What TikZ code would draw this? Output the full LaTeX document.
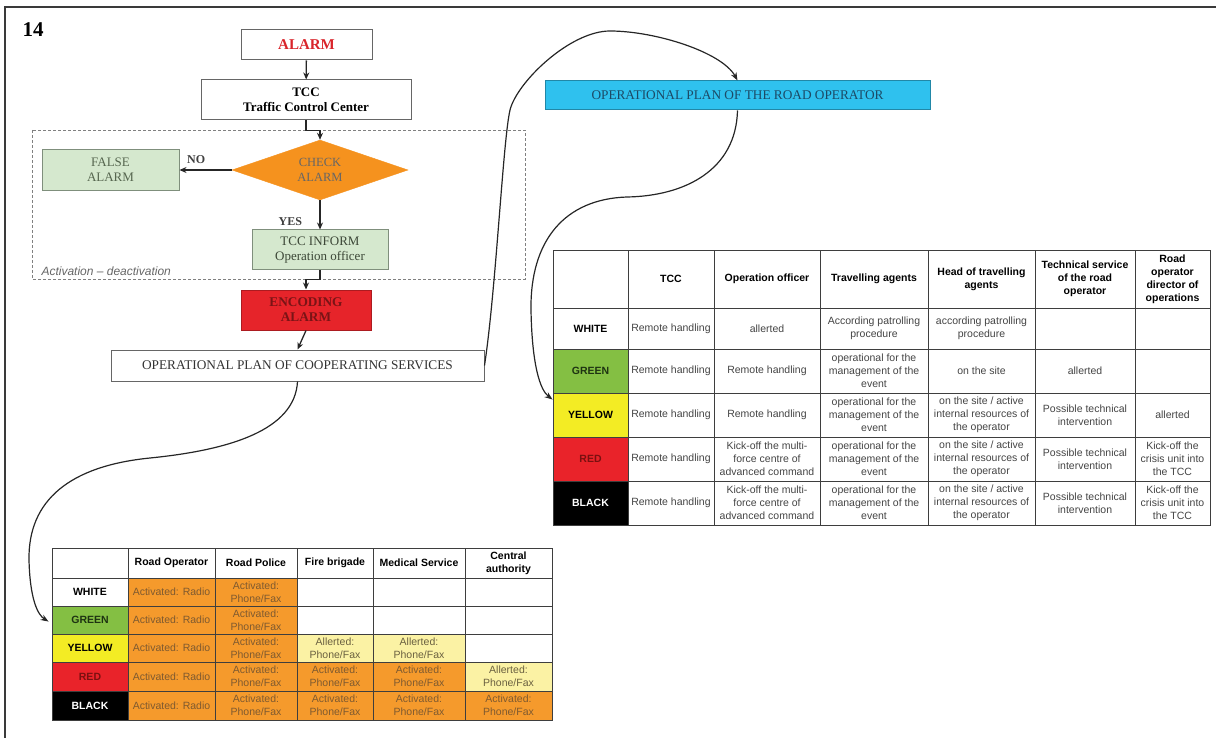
\documentclass[tikz,border=0pt]{standalone}
\usepackage{fontspec}
\setmainfont{Liberation Serif}
\newfontfamily\tabfont{Liberation Sans}
\usetikzlibrary{arrows.meta,shapes.geometric}

\definecolor{frameC}{HTML}{3A3A3A}
\definecolor{boxline}{HTML}{666666}
\definecolor{alarmred}{HTML}{D9252B}
\definecolor{checkorange}{HTML}{F5921E}
\definecolor{paleGreen}{HTML}{D5E8CE}
\definecolor{paleGreenLine}{HTML}{7F8F7C}
\definecolor{paleGreenText}{HTML}{56664F}
\definecolor{encRed}{HTML}{E6242A}
\definecolor{encText}{HTML}{7A1416}
\definecolor{planBlue}{HTML}{2FC1EE}
\definecolor{planBlueText}{HTML}{1C4A66}
\definecolor{lvGreen}{HTML}{84BF43}
\definecolor{lvGreenText}{HTML}{1E3312}
\definecolor{lvYellow}{HTML}{F3EC24}
\definecolor{lvRed}{HTML}{E9232A}
\definecolor{lvRedText}{HTML}{7A1010}
\definecolor{cellOrange}{HTML}{F59A2C}
\definecolor{cellPale}{HTML}{FBF2A4}
\definecolor{gridC}{HTML}{3E3E3E}
\definecolor{cellText}{HTML}{444444}
\definecolor{orangeText}{HTML}{7E5A30}
\definecolor{paleText}{HTML}{6A6040}

% one table cell: name, x0, y0, x1, y1, extra style, text
\newcommand\cellnode[7]{%
  \node[tcell,#6,minimum width={(#4-#2)*1pt},minimum height={(#5-#3)*1pt}]
    (#1) at ({(#2+#4)/2},{(#3+#5)/2}) {#7};}

\begin{document}
\begin{tikzpicture}[x=1pt,y=-1pt,
  flowbox/.style={draw=boxline,line width=1pt,inner sep=0pt,align=center,text=black},
  link/.style={draw=black!85,line width=1.3pt,-{Stealth[length=7pt,width=6pt]}},
  curvelink/.style={draw=black!85,line width=1.2pt,-{Stealth[length=8pt,width=6pt]}},
  tcell/.style={draw=gridC,line width=0.9pt,inner sep=0pt,align=center,
    text=cellText,font=\tabfont\fontsize{10.5}{13}\selectfont},
  head/.style={text=black,font=\tabfont\bfseries\fontsize{10.5}{13}\selectfont},
  lvWhite/.style={head,fill=white},
  lvGreenC/.style={head,fill=lvGreen,text=lvGreenText},
  lvYellowC/.style={head,fill=lvYellow,text=black},
  lvRedC/.style={head,fill=lvRed,text=lvRedText},
  lvBlackC/.style={head,fill=black,text=white},
  act/.style={fill=cellOrange,text=orangeText},
  alr/.style={fill=cellPale,text=paleText}]
\useasboundingbox (0,0) rectangle (1216,738);

% frame
\draw[frameC,line width=1.5pt] (5,738) -- (5,7) -- (1216,7);
\node[anchor=base west,font=\bfseries\fontsize{21}{24}\selectfont] (fignum) at (19,37) {14};

% activation area
\draw[gray,line width=0.8pt,dash pattern=on 3pt off 2pt] (32,130) rectangle (525,279);
\node[anchor=base west,text=black!60,font=\tabfont\itshape\fontsize{12}{14}\selectfont]
  (actlabel) at (38,276) {Activation – deactivation};

% flow chart
\node[flowbox,minimum width=131pt,minimum height=30pt,text=alarmred,
  font=\bfseries\fontsize{15}{17}\selectfont] (alarm) at (306.5,45) {ALARM};
\node[flowbox,minimum width=210pt,minimum height=40pt,
  font=\bfseries\fontsize{13}{15}\selectfont] (tcc) at (306,100) {TCC\\Traffic Control Center};
\node[diamond,aspect=2.9,draw=checkorange,fill=checkorange,inner sep=0pt,
  minimum width=176pt,minimum height=60pt,align=center,text=black!60,
  font=\fontsize{12.5}{14.5}\selectfont] (check) at (320,170) {CHECK\\ALARM};
\node[flowbox,fill=paleGreen,draw=paleGreenLine,minimum width=137pt,minimum height=41pt,
  text=paleGreenText,font=\fontsize{13}{15}\selectfont] (falsealarm) at (110.5,170) {FALSE\\ALARM};
\node[flowbox,fill=paleGreen,draw=paleGreenLine,minimum width=136pt,minimum height=40pt,
  text=paleGreenText!70!black,font=\fontsize{13}{15}\selectfont] (tccinform) at (320,250) {TCC INFORM\\Operation officer};
\node[flowbox,fill=encRed,draw=encRed!75!black,minimum width=130pt,minimum height=40pt,
  text=encText,font=\bfseries\fontsize{13.3}{15}\selectfont] (encoding) at (306,310) {ENCODING\\ALARM};
\node[flowbox,minimum width=373pt,minimum height=31pt,text=black!80,
  font=\fontsize{13.3}{15}\selectfont] (opcs) at (297.5,365.5) {OPERATIONAL PLAN OF COOPERATING SERVICES};
\node[flowbox,fill=planBlue,draw=planBlue!70!black,minimum width=385pt,minimum height=29pt,
  text=planBlueText,font=\fontsize{13.3}{15}\selectfont] (orp) at (737.5,95.5) {OPERATIONAL PLAN OF THE ROAD OPERATOR};

\draw[link] (alarm) -- (tcc);
\draw[link] (tcc.south) -- ++(0,10) -| (check.north);
\draw[link] (check.west) -- (falsealarm.east)
  node[pos=0.68,above=2pt,font=\bfseries\fontsize{12}{14}\selectfont,text=black!75] (nolabel) {NO};
\draw[link] (check.south) -- (tccinform.north)
  node[pos=0.72,left=14pt,font=\bfseries\fontsize{12}{14}\selectfont,text=black!75] (yeslabel) {YES};
\draw[link] (tccinform.south) -- ++(0,9) -| (encoding.north);
\draw[link] (encoding.south) -- (opcs.north);

% right table: road operator
\cellnode{rh0}{553}{250}{628}{308}{}{}
\foreach \xa/\xb/\n/\t in {628/714/1/TCC, 714/820/2/{Operation officer},
  820/928/3/{Travelling agents}, 928/1035/4/{Head of travelling\\agents},
  1035/1135/5/{Technical service\\of the road\\operator},
  1135/1210/6/{Road\\operator\\director of\\operations}}
  {\cellnode{rh\n}{\xa}{250}{\xb}{308}{head}{\t}}

\cellnode{rw-lab}{553}{308}{628}{349}{lvWhite}{WHITE}
\foreach \xa/\xb/\n/\t in {628/714/1/{Remote handling}, 714/820/2/allerted,
  820/928/3/{According patrolling\\procedure}, 928/1035/4/{according patrolling\\procedure},
  1035/1135/5/{}, 1135/1210/6/{}}
  {\cellnode{rw\n}{\xa}{308}{\xb}{349}{}{\t}}

\cellnode{rg-lab}{553}{349}{628}{393}{lvGreenC}{GREEN}
\foreach \xa/\xb/\n/\t in {628/714/1/{Remote handling}, 714/820/2/{Remote handling},
  820/928/3/{operational for the\\management of the\\event}, 928/1035/4/{on the site},
  1035/1135/5/allerted, 1135/1210/6/{}}
  {\cellnode{rg\n}{\xa}{349}{\xb}{393}{}{\t}}

\cellnode{ry-lab}{553}{393}{628}{437}{lvYellowC}{YELLOW}
\foreach \xa/\xb/\n/\t in {628/714/1/{Remote handling}, 714/820/2/{Remote handling},
  820/928/3/{operational for the\\management of the\\event},
  928/1035/4/{on the site / active\\internal resources of\\the operator},
  1035/1135/5/{Possible technical\\intervention}, 1135/1210/6/allerted}
  {\cellnode{ry\n}{\xa}{393}{\xb}{437}{}{\t}}

\cellnode{rr-lab}{553}{437}{628}{481}{lvRedC}{RED}
\foreach \xa/\xb/\n/\t in {628/714/1/{Remote handling},
  714/820/2/{Kick-off the multi-\\force centre of\\advanced command},
  820/928/3/{operational for the\\management of the\\event},
  928/1035/4/{on the site / active\\internal resources of\\the operator},
  1035/1135/5/{Possible technical\\intervention},
  1135/1210/6/{Kick-off the\\crisis unit into\\the TCC}}
  {\cellnode{rr\n}{\xa}{437}{\xb}{481}{}{\t}}

\cellnode{rb-lab}{553}{481}{628}{525}{lvBlackC}{BLACK}
\foreach \xa/\xb/\n/\t in {628/714/1/{Remote handling},
  714/820/2/{Kick-off the multi-\\force centre of\\advanced command},
  820/928/3/{operational for the\\management of the\\event},
  928/1035/4/{on the site / active\\internal resources of\\the operator},
  1035/1135/5/{Possible technical\\intervention},
  1135/1210/6/{Kick-off the\\crisis unit into\\the TCC}}
  {\cellnode{rb\n}{\xa}{481}{\xb}{525}{}{\t}}

% bottom table: cooperating services
\cellnode{bh0}{52}{548}{128}{578}{}{}
\foreach \xa/\xb/\n/\t in {128/215/1/{Road Operator}, 215/297/2/{Road Police},
  297/373/3/{Fire brigade}, 373/465/4/{Medical Service}, 465/552/5/{Central\\authority}}
  {\cellnode{bh\n}{\xa}{548}{\xb}{578}{head}{\t}}

\cellnode{bw-lab}{52}{578}{128}{606}{lvWhite}{WHITE}
\cellnode{bw1}{128}{578}{215}{606}{act}{Activated: Radio}
\cellnode{bw2}{215}{578}{297}{606}{act}{Activated:\\Phone/Fax}
\cellnode{bw3}{297}{578}{373}{606}{}{}
\cellnode{bw4}{373}{578}{465}{606}{}{}
\cellnode{bw5}{465}{578}{552}{606}{}{}

\cellnode{bg-lab}{52}{606}{128}{634}{lvGreenC}{GREEN}
\cellnode{bg1}{128}{606}{215}{634}{act}{Activated: Radio}
\cellnode{bg2}{215}{606}{297}{634}{act}{Activated:\\Phone/Fax}
\cellnode{bg3}{297}{606}{373}{634}{}{}
\cellnode{bg4}{373}{606}{465}{634}{}{}
\cellnode{bg5}{465}{606}{552}{634}{}{}

\cellnode{by-lab}{52}{634}{128}{662}{lvYellowC}{YELLOW}
\cellnode{by1}{128}{634}{215}{662}{act}{Activated: Radio}
\cellnode{by2}{215}{634}{297}{662}{act}{Activated:\\Phone/Fax}
\cellnode{by3}{297}{634}{373}{662}{alr}{Allerted:\\Phone/Fax}
\cellnode{by4}{373}{634}{465}{662}{alr}{Allerted:\\Phone/Fax}
\cellnode{by5}{465}{634}{552}{662}{}{}

\cellnode{br-lab}{52}{662}{128}{691}{lvRedC}{RED}
\cellnode{br1}{128}{662}{215}{691}{act}{Activated: Radio}
\cellnode{br2}{215}{662}{297}{691}{act}{Activated:\\Phone/Fax}
\cellnode{br3}{297}{662}{373}{691}{act}{Activated:\\Phone/Fax}
\cellnode{br4}{373}{662}{465}{691}{act}{Activated:\\Phone/Fax}
\cellnode{br5}{465}{662}{552}{691}{alr}{Allerted:\\Phone/Fax}

\cellnode{bb-lab}{52}{691}{128}{720}{lvBlackC}{BLACK}
\cellnode{bb1}{128}{691}{215}{720}{act}{Activated: Radio}
\cellnode{bb2}{215}{691}{297}{720}{act}{Activated:\\Phone/Fax}
\cellnode{bb3}{297}{691}{373}{720}{act}{Activated:\\Phone/Fax}
\cellnode{bb4}{373}{691}{465}{720}{act}{Activated:\\Phone/Fax}
\cellnode{bb5}{465}{691}{552}{720}{act}{Activated:\\Phone/Fax}

% curved connectors between the plans and the tables
\draw[curvelink] (opcs.east) .. controls (496,290) and (503,140) .. (510,110)
  .. controls (517,82) and (570,31) .. (610,31)
  .. controls (655,31) and (722,52) .. (orp.north);
\draw[curvelink] (orp.south) .. controls (736,170) and (685,196) .. (627,197)
  .. controls (565,199) and (530,240) .. (531,310)
  .. controls (532,365) and (540,390) .. ([yshift=-7pt]ry-lab.north west);
\draw[curvelink] (opcs.south) .. controls (295,430) and (230,450) .. (150,458)
  .. controls (70,466) and (28,500) .. (29,560)
  .. controls (30,600) and (38,615) .. ([xshift=-3pt,yshift=-16pt]bg-lab.north west);
\end{tikzpicture}
\end{document}
